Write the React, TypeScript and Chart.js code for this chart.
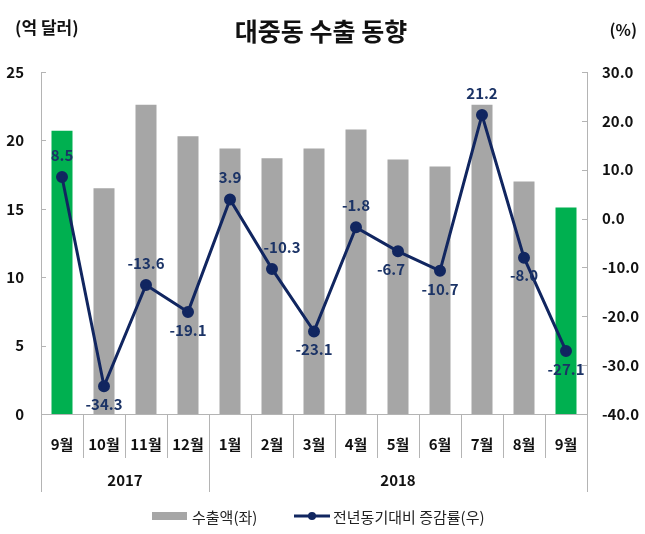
import React, { useEffect, useRef } from 'react';
import { Chart, registerables } from 'chart.js';

Chart.register(...registerables);

const months = ['9월', '10월', '11월', '12월', '1월', '2월', '3월', '4월', '5월', '6월', '7월', '8월', '9월'];
const yearLabels = ['2017', '2018'];
const yearSpans = [4, 9];
const exportValues = [20.7, 16.5, 22.6, 20.3, 19.4, 18.7, 19.4, 20.8, 18.6, 18.1, 22.6, 17.0, 15.1];
const growthValues = [8.5, -34.3, -13.6, -19.1, 3.9, -10.3, -23.1, -1.8, -6.7, -10.7, 21.2, -8.0, -27.1];
const highlighted = [true, false, false, false, false, false, false, false, false, false, false, false, true];
const labelPlacement = ['above', 'below', 'above', 'below', 'above', 'above', 'below', 'above', 'below', 'below', 'above', 'below', 'below'];
const labelShiftX = [0, 0, 0, 0, 0, 10, 0, 0, -7, 0, 0, 0, 0];

const title = '대중동 수출 동향';
const leftUnit = '(억 달러)';
const rightUnit = '(%)';
const legendBar = '수출액(좌)';
const legendLine = '전년동기대비 증감률(우)';

const FONT = '"Noto Sans CJK KR", "Noto Sans", sans-serif';
const NAVY = '#112660';
const LABEL = '#1B3366';
const GRAY = '#A6A6A6';
const GREEN = '#00B050';
const AXIS = '#B4B4B4';

const decorPlugin = {
  id: 'decor',
  afterDatasetsDraw(chart: any) {
    const ctx = chart.ctx;
    const ca = chart.chartArea;
    const yl = chart.scales.y;
    const yr = chart.scales.y1;
    ctx.save();
    ctx.strokeStyle = AXIS;
    ctx.lineWidth = 1;
    ctx.beginPath();
    ctx.moveTo(ca.left + 0.5, ca.top);
    ctx.lineTo(ca.left + 0.5, ca.bottom);
    ctx.moveTo(ca.right + 0.5, ca.top);
    ctx.lineTo(ca.right + 0.5, ca.bottom);
    ctx.moveTo(ca.left, ca.bottom + 0.5);
    ctx.lineTo(ca.right, ca.bottom + 0.5);
    yl.ticks.forEach((t: any) => {
      const py = Math.round(yl.getPixelForValue(t.value)) + 0.5;
      ctx.moveTo(ca.left, py);
      ctx.lineTo(ca.left + 5, py);
    });
    yr.ticks.forEach((t: any) => {
      const py = Math.round(yr.getPixelForValue(t.value)) + 0.5;
      ctx.moveTo(ca.right - 5, py);
      ctx.lineTo(ca.right, py);
    });
    const n = months.length;
    const w = (ca.right - ca.left) / n;
    const bigBounds: number[] = [0];
    let acc = 0;
    yearSpans.forEach((s) => { acc += s; bigBounds.push(acc); });
    for (let i = 0; i <= n; i++) {
      const px = Math.round(ca.left + i * w) + 0.5;
      const long = bigBounds.indexOf(i) >= 0;
      ctx.moveTo(px, ca.bottom);
      ctx.lineTo(px, long ? ca.bottom + 78 : ca.bottom + 44);
    }
    ctx.stroke();

    ctx.fillStyle = '#111';
    ctx.font = `bold 15px ${FONT}`;
    ctx.textAlign = 'center';
    ctx.textBaseline = 'middle';
    let start = 0;
    yearLabels.forEach((yl2, i) => {
      const a = ca.left + start * w;
      const b = ca.left + (start + yearSpans[i]) * w;
      ctx.fillText(yl2, (a + b) / 2, ca.bottom + 66);
      start += yearSpans[i];
    });

    const meta = chart.getDatasetMeta(0);
    ctx.fillStyle = LABEL;
    ctx.font = `bold 15px ${FONT}`;
    meta.data.forEach((pt: any, i: number) => {
      const dy = labelPlacement[i] === 'above' ? -22 : 18;
      ctx.fillText(growthValues[i].toFixed(1), pt.x + labelShiftX[i], pt.y + dy);
    });

    ctx.fillStyle = '#111';
    ctx.font = `bold 25px ${FONT}`;
    ctx.fillText(title, 321, 31);
    ctx.font = `bold 17px ${FONT}`;
    ctx.textAlign = 'left';
    ctx.fillText(leftUnit, 15, 28);
    ctx.font = `bold 16px ${FONT}`;
    ctx.textAlign = 'right';
    ctx.fillText(rightUnit, 637, 30);

    const ly = 517;
    ctx.fillStyle = GRAY;
    ctx.fillRect(152, ly - 5, 35, 8);
    ctx.fillStyle = '#222';
    ctx.font = `15px ${FONT}`;
    ctx.textAlign = 'left';
    ctx.fillText(legendBar, 192, ly);
    ctx.strokeStyle = NAVY;
    ctx.lineWidth = 3;
    ctx.beginPath();
    ctx.moveTo(294, ly - 1);
    ctx.lineTo(330, ly - 1);
    ctx.stroke();
    ctx.fillStyle = NAVY;
    ctx.beginPath();
    ctx.arc(312, ly - 1, 4, 0, Math.PI * 2);
    ctx.fill();
    ctx.fillStyle = '#222';
    ctx.fillText(legendLine, 333, ly);
    ctx.restore();
  },
};

export default function App() {
  const ref = useRef<HTMLCanvasElement>(null);
  useEffect(() => {
    const chart = new Chart(ref.current as HTMLCanvasElement, {
      type: 'bar',
      data: {
        labels: months,
        datasets: [
          {
            type: 'line',
            label: legendLine,
            data: growthValues,
            yAxisID: 'y1',
            borderColor: NAVY,
            backgroundColor: NAVY,
            borderWidth: 3,
            pointRadius: 4.5,
            pointBackgroundColor: NAVY,
            pointBorderColor: NAVY,
            tension: 0,
            order: 0,
          } as any,
          {
            type: 'bar',
            label: legendBar,
            data: exportValues,
            yAxisID: 'y',
            backgroundColor: highlighted.map((h) => (h ? GREEN : GRAY)),
            barPercentage: 0.5,
            categoryPercentage: 1,
            order: 1,
          },
        ],
      },
      plugins: [decorPlugin],
      options: {
        responsive: false,
        animation: false,
        events: [],
        layout: { padding: { top: 72, left: 0, right: 0, bottom: 0 } },
        plugins: { legend: { display: false }, title: { display: false }, tooltip: { enabled: false } },
        scales: {
          x: {
            offset: true,
            grid: { display: false, drawTicks: false },
            border: { display: false },
            ticks: { color: '#111', font: { family: FONT, size: 15, weight: 'bold' }, padding: 21, maxRotation: 0, autoSkip: false },
            afterFit: (s: any) => { s.height = 120; },
          },
          y: {
            position: 'left',
            min: 0,
            max: 25,
            grid: { display: false, drawTicks: false },
            border: { display: false },
            ticks: { stepSize: 5, color: '#111', font: { family: FONT, size: 15, weight: 'bold' }, padding: 17 },
            afterFit: (s: any) => { s.width = 41; },
          },
          y1: {
            position: 'right',
            min: -40,
            max: 30,
            grid: { display: false, drawTicks: false },
            border: { display: false },
            ticks: {
              stepSize: 10,
              color: '#111',
              font: { family: FONT, size: 15, weight: 'bold' },
              padding: 15,
              callback: (v: any) => Number(v).toFixed(1),
            },
            afterFit: (s: any) => { s.width = 58; },
          },
        },
      } as any,
    });
    return () => chart.destroy();
  }, []);
  return (
    <div style={{ position: 'fixed', left: 0, top: 0, width: 645, height: 534, background: '#fff' }}>
      <canvas ref={ref} width={645} height={534} style={{ width: 645, height: 534 }} />
    </div>
  );
}
